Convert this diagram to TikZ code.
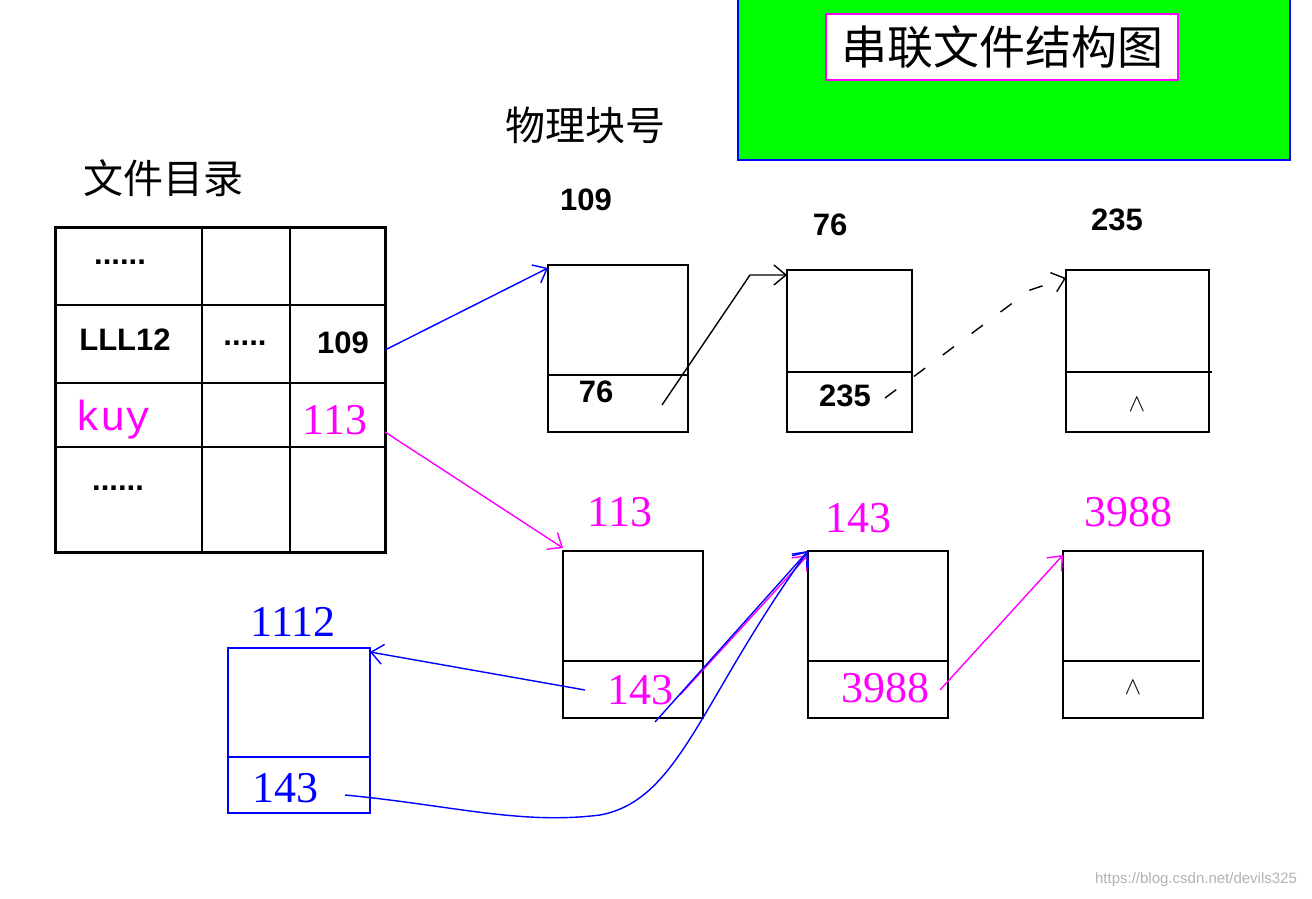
\documentclass[tikz,border=0pt]{standalone}
\usepackage{fontspec}
\setmainfont{Liberation Sans}
\newfontfamily\cjk{Noto Sans CJK SC}
\newfontfamily\serif{Liberation Serif}
\newfontfamily\mono{Liberation Mono}
\usetikzlibrary{arrows.meta}
\definecolor{mag}{RGB}{255,0,255}
\definecolor{blu}{RGB}{0,0,255}
\definecolor{grn}{RGB}{0,255,0}
\begin{document}
\begin{tikzpicture}[x=1pt,y=-1pt,
  blk/.style={draw,line width=1.6pt},
  bnum/.style={font=\fontsize{31}{31}\selectfont\bfseries},
  mnum/.style={font=\serif\fontsize{44}{44}\selectfont,text=mag},
  bl/.style={font=\serif\fontsize{44}{44}\selectfont,text=blu},
  wedg/.style={font=\fontsize{60}{60}\selectfont},
  arr/.style={-{Straight Barb[length=12pt,width=20pt]},line width=1.4pt}]
\useasboundingbox (0,0) rectangle (1312,898);
% title
\draw[blu,line width=2pt,fill=grn] (738,-2) rectangle (1290,160);
\node[draw=mag,line width=2pt,fill=white,minimum width=352pt,minimum height=66pt,font=\cjk\fontsize{46}{46}\selectfont] (title) at (1002,47) {串联文件结构图};
\node[font=\cjk\fontsize{40}{40}\selectfont] (phys) at (585,125) {物理块号};
\node[font=\cjk\fontsize{40}{40}\selectfont] (dir) at (163,178) {文件目录};
% table
\draw[line width=3pt] (55,227) rectangle (385,552);
\draw[line width=2pt] (202,227)--(202,552) (290,227)--(290,552)
  (55,305)--(385,305) (55,383)--(385,383) (55,447)--(385,447);
\node[bnum] (d1) at (120,262) {......};
\node[bnum] (lll) at (125,340) {LLL12};
\node[bnum] (d2) at (245,343) {.....};
\node[bnum] (t109) at (343,343) {109};
\node[font=\mono\fontsize{42}{42}\selectfont,text=mag] (kuy) at (113,420) {kuy};
\node[mnum] (t113) at (335,420) {113};
\node[bnum] (d3) at (118,488) {......};
% row 1
\node[bnum] (l109) at (586,200) {109};
\draw[blk] (548,265) rectangle (688,432); \draw[blk] (548,375)--(688,375);
\node[bnum] (p76) at (596,392) {76};
\node[bnum] (l76) at (830,225) {76};
\draw[blk] (787,270) rectangle (912,432); \draw[blk] (787,372)--(912,372);
\node[bnum] (p235) at (845,396) {235};
\node[bnum] (l235) at (1117,220) {235};
\draw[blk] (1066,270) rectangle (1209,432); \draw[blk] (1066,372)--(1212,372);
\node[wedg] (nil1) at (1137,405) {$\wedge$};
% row 2
\node[mnum] (l113) at (620,512) {113};
\draw[blk] (563,551) rectangle (703,718); \draw[blk] (563,661)--(703,661);
\node[mnum] (p143) at (640,690) {143};
\node[mnum] (l143) at (858,518) {143};
\draw[blk] (808,551) rectangle (948,718); \draw[blk] (808,661)--(948,661);
\node[mnum] (p3988) at (885,688) {3988};
\node[mnum] (l3988) at (1128,512) {3988};
\draw[blk] (1063,551) rectangle (1203,718); \draw[blk] (1063,661)--(1200,661);
\node[wedg] (nil2) at (1133,688) {$\wedge$};
% blue block
\node[bl] (l1112) at (293,622) {1112};
\draw[blu,line width=2pt] (228,648) rectangle (370,813); \draw[blu,line width=2pt] (228,757)--(370,757);
\node[bl] (b143) at (285,788) {143};
% connectors
\coordinate (a1) at (385,350); \coordinate (a2) at (548,268);
\draw[arr,blu] (a1)--(a2);
\coordinate (b1) at (662,405); \coordinate (b2) at (750,275); \coordinate (b3) at (787,275);
\draw[arr] (b1)--(b2)--(b3);
\coordinate (c1) at (885,398); \coordinate (c2) at (1030,290); \coordinate (c3) at (1066,278);
\draw[arr,dash pattern=on 14pt off 22pt] (c1)--(c2)--(c3);
\coordinate (m1) at (385,432); \coordinate (m2) at (563,548);
\draw[arr,mag] (m1)--(m2);
\coordinate (e1) at (585,690); \coordinate (e2) at (370,652);
\draw[arr,blu] (e1)--(e2);
\coordinate (f1) at (680,695); \coordinate (f2) at (808,555);
\draw[arr,mag] (f1)--(f2);
\coordinate (g1) at (655,722); \coordinate (g2) at (808,551);
\draw[arr,blu] (g1)--(g2);
\coordinate (h1) at (345,795);
\draw[arr,blu] (h1) .. controls (450,805) and (520,825) .. (600,815) .. controls (680,800) and (700,700) .. (g2);
\coordinate (k1) at (940,690); \coordinate (k2) at (1063,555);
\draw[arr,mag] (k1)--(k2);
\node[text=gray!60,font=\fontsize{15}{15}\selectfont] (wm) at (1196,880) {https://blog.csdn.net/devils325};
\end{tikzpicture}
\end{document}
